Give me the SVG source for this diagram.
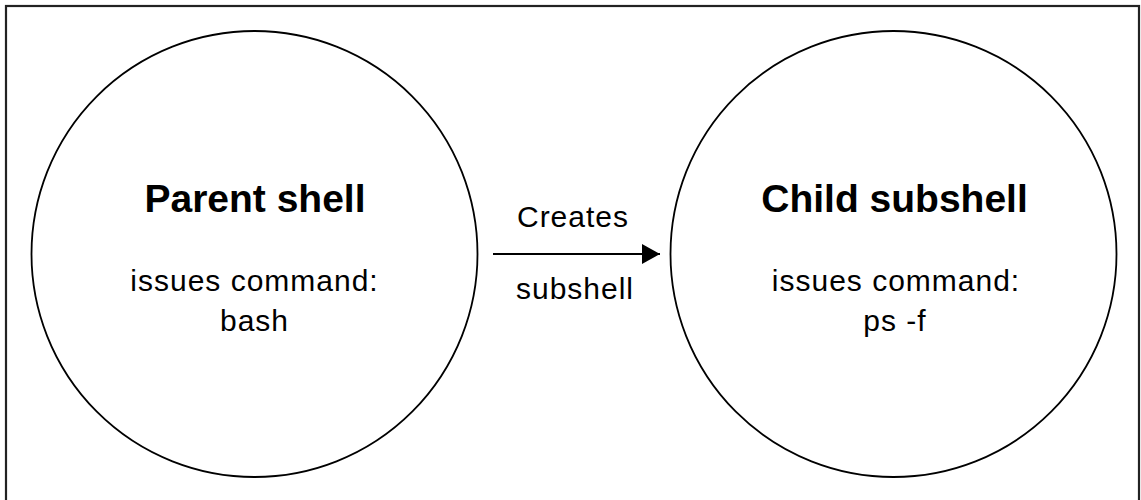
<svg xmlns="http://www.w3.org/2000/svg" width="1141" height="500" viewBox="0 0 1141 500">
  <style>
    .node circle { fill: #fff; stroke: #000; stroke-width: 1.8; }
    .title { font-family: "Liberation Sans", Arial, sans-serif; font-weight: bold; font-size: 39px; fill: #000; text-anchor: middle; }
    .body { font-family: "Liberation Sans", Arial, sans-serif; font-size: 30px; fill: #000; text-anchor: middle; letter-spacing: 1px; }
    .edge { stroke: #000; stroke-width: 1.8; fill: none; }
  </style>
  <defs>
    <marker id="arrow" markerUnits="userSpaceOnUse" markerWidth="20" markerHeight="22" refX="18" refY="10" orient="auto">
      <polygon points="0,0 18,10 0,20" fill="#000"/>
    </marker>
  </defs>
  <rect x="0" y="0" width="1141" height="500" fill="#fff"/>
  <rect x="6" y="6" width="1133" height="520" fill="none" stroke="#222" stroke-width="2.2"/>
  <g id="parent-shell" class="node">
    <circle cx="254.5" cy="254" r="223"/>
    <text class="title" x="255" y="212">Parent shell</text>
    <text class="body" x="254.5" y="291">issues command:</text>
    <text class="body" x="254.5" y="331">bash</text>
  </g>
  <g id="child-subshell" class="node">
    <circle cx="893.5" cy="254" r="223"/>
    <text class="title" x="894.5" y="212">Child subshell</text>
    <text class="body" x="896" y="291">issues command:</text>
    <text class="body" x="895" y="331">ps -f</text>
  </g>
  <g id="connectors">
    <line class="edge" x1="493" y1="254" x2="660" y2="254" marker-end="url(#arrow)"/>
    <text class="body" x="573" y="227">Creates</text>
    <text class="body" x="575" y="299">subshell</text>
  </g>
</svg>
